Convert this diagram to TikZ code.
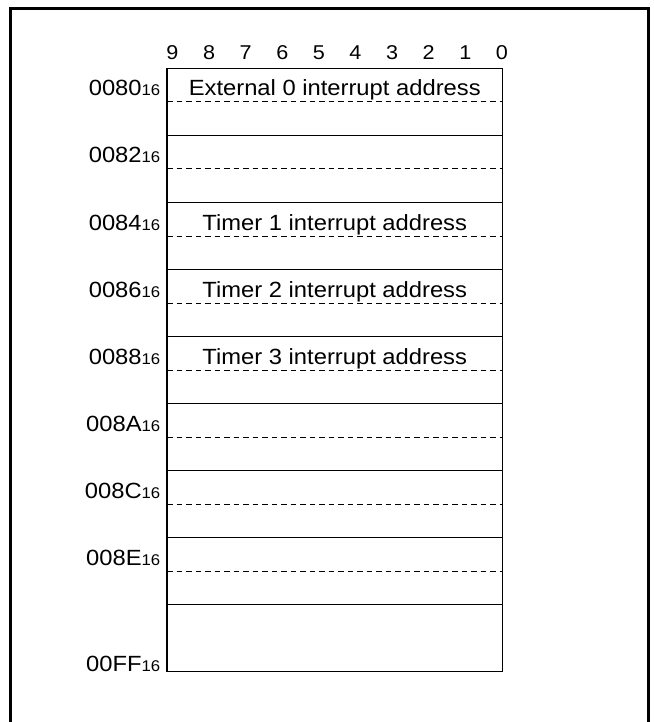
\documentclass[tikz,border=0pt]{standalone}
\usepackage{fontspec}
\setmainfont{Liberation Sans}[FakeStretch=1.08]
\usepackage{tikz}
\usetikzlibrary{positioning}

\newcommand{\hexsub}[1]{{\fontsize{15.5}{15.5}\selectfont #1}}

\begin{document}
\begin{tikzpicture}[
    x=1pt, y=-1pt,
    frame/.style={draw=black, line width=2.2pt},
    rowbox/.style={rectangle, draw=black, line width=1.3pt, outer sep=0pt, inner sep=0pt, minimum width=335.5pt, minimum height=67pt},
    outline/.style={draw=black, line width=1.8pt},
    halfline/.style={draw=black, line width=1pt, dash pattern=on 5.5pt off 4pt},
    bitnum/.style={inner sep=0pt, minimum width=36.2pt, text height=14pt, text depth=0pt, font=\fontsize{20}{20}\selectfont},
    rowtext/.style={anchor=base, inner sep=0pt, font=\fontsize{22}{26}\selectfont},
    addr/.style={anchor=base east, inner sep=0pt, font=\fontsize{22}{26}\selectfont}
]
\useasboundingbox (0,0) rectangle (653,722);

% Outer frame
\draw[frame] (10.5,724) |- (648.5,8.5) -- (648.5,724);

% Bit numbers
\node[bitnum] (b9) at (172.5,53) {9};
\node[bitnum, right=0pt of b9] (b8) {8};
\node[bitnum, right=0pt of b8] (b7) {7};
\node[bitnum, right=0pt of b7] (b6) {6};
\node[bitnum, right=0pt of b6] (b5) {5};
\node[bitnum, right=0pt of b5] (b4) {4};
\node[bitnum, right=0pt of b4] (b3) {3};
\node[bitnum, right=0pt of b3] (b2) {2};
\node[bitnum, right=0pt of b2] (b1) {1};
\node[bitnum, right=0pt of b1] (b0) {0};

% Memory rows
\node[rowbox] (r0) at (334.75,102) {};
\node[rowbox, below=0pt of r0] (r1) {};
\node[rowbox, below=0pt of r1] (r2) {};
\node[rowbox, below=0pt of r2] (r3) {};
\node[rowbox, below=0pt of r3] (r4) {};
\node[rowbox, below=0pt of r4] (r5) {};
\node[rowbox, below=0pt of r5] (r6) {};
\node[rowbox, below=0pt of r6] (r7) {};
\node[rowbox, below=0pt of r7] (r8) {};
\draw[outline] (r0.north west) rectangle (r8.south east);

% Word boundaries
\draw[halfline] (r0.west) -- (r0.east);
\draw[halfline] (r1.west) -- (r1.east);
\draw[halfline] (r2.west) -- (r2.east);
\draw[halfline] (r3.west) -- (r3.east);
\draw[halfline] (r4.west) -- (r4.east);
\draw[halfline] (r5.west) -- (r5.east);
\draw[halfline] (r6.west) -- (r6.east);
\draw[halfline] (r7.west) -- (r7.east);

% Contents
\node[rowtext] (t0) at ([yshift=6pt]r0.center) {External 0 interrupt address};
\node[rowtext] (t2) at ([yshift=6pt]r2.center) {Timer 1 interrupt address};
\node[rowtext] (t3) at ([yshift=6pt]r3.center) {Timer 2 interrupt address};
\node[rowtext] (t4) at ([yshift=6pt]r4.center) {Timer 3 interrupt address};

% Addresses
\node[addr] (a0) at ([xshift=-6.5pt, yshift=6pt]r0.west) {0080\hexsub{16}};
\node[addr] (a1) at ([xshift=-6.5pt, yshift=6pt]r1.west) {0082\hexsub{16}};
\node[addr] (a2) at ([xshift=-6.5pt, yshift=6pt]r2.west) {0084\hexsub{16}};
\node[addr] (a3) at ([xshift=-6.5pt, yshift=6pt]r3.west) {0086\hexsub{16}};
\node[addr] (a4) at ([xshift=-6.5pt, yshift=6pt]r4.west) {0088\hexsub{16}};
\node[addr] (a5) at ([xshift=-6.5pt, yshift=6pt]r5.west) {008A\hexsub{16}};
\node[addr] (a6) at ([xshift=-6.5pt, yshift=6pt]r6.west) {008C\hexsub{16}};
\node[addr] (a7) at ([xshift=-6.5pt, yshift=6pt]r7.west) {008E\hexsub{16}};
\node[addr] (a8) at ([xshift=-6.5pt]r8.south west) {00FF\hexsub{16}};

\end{tikzpicture}
\end{document}
